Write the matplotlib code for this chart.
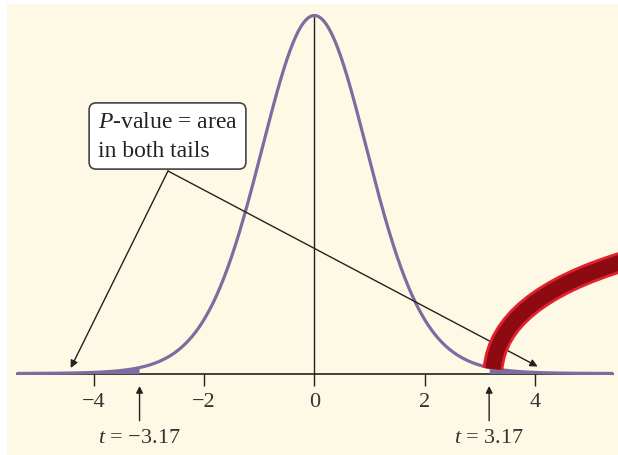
import math
import numpy as np
import matplotlib
matplotlib.use("Agg")
import matplotlib.pyplot as plt
from matplotlib.path import Path
from matplotlib.patches import PathPatch

# data
df = 15
t_stat = 3.17
x_ticks = [-4, -2, 0, 2, 4]
x_tick_labels = ["\u22124", "\u22122", "0", "2", "4"]
t_labels = ["$t$ = \u22123.17", "$t$ = 3.17"]
box_text = "$P$-value = area\nin both tails"
x_min, x_max = -5.4, 5.42

plt.rcParams["font.family"] = ["Liberation Serif", "DejaVu Serif"]
plt.rcParams["mathtext.fontset"] = "custom"
plt.rcParams["mathtext.rm"] = "Liberation Serif"
plt.rcParams["mathtext.it"] = "Liberation Serif:italic"

bg = "#fef9e4"
curve_c = "#7a6ea0"
ink = "#222222"


def t_pdf(x, k):
    c = math.gamma((k + 1) / 2) / (math.sqrt(k * math.pi) * math.gamma(k / 2))
    return c * (1 + x ** 2 / k) ** (-(k + 1) / 2)


W, H = 618, 456
fig = plt.figure(figsize=(W / 100, H / 100), dpi=100)
fig.patch.set_facecolor("white")

# pixel layout of the plotting area
px0, py_axis, unit = 314.35, 374.5, 55.14
peak_px = 16.5
f0 = t_pdf(0, df)
s = (py_axis - peak_px) / f0  # px per density unit

ax = fig.add_axes([7 / W, 0, (W - 7) / W, (H - 5) / H])
ax.set_facecolor(bg)
ax.set_xlim((7 - px0) / unit, (W - px0) / unit)
ax.set_ylim(-(H - py_axis) / s, (py_axis - 5) / s)


def px(x, y):
    return ((x - px0) / unit, (py_axis - y) / s)


xs = np.linspace(x_min, x_max, 800)
ys = t_pdf(xs, df)
ax.plot(xs, ys, color=curve_c, lw=2.3, zorder=3, solid_capstyle="butt")
ax.fill_between(xs, 0, ys, where=xs <= -t_stat, color=curve_c, lw=0, zorder=3)
ax.fill_between(xs, 0, ys, where=xs >= t_stat, color=curve_c, lw=0, zorder=3)
ax.plot([0, 0], [0, f0], color=ink, lw=1.0, zorder=2)

for sp in ["top", "left", "right"]:
    ax.spines[sp].set_visible(False)
ax.spines["bottom"].set_position(("data", 0))
ax.spines["bottom"].set_bounds(x_min, x_max)
ax.spines["bottom"].set_linewidth(1.2)
ax.spines["bottom"].set_color(ink)
ax.set_yticks([])
ax.set_xticks(x_ticks)
ax.set_xticklabels(x_tick_labels)
ax.tick_params(axis="x", direction="out", length=8.5, width=1.0, color=ink,
               pad=4.5, labelsize=16, labelcolor="#333333")

# t-statistic markers
for t, lab in zip([-t_stat, t_stat], t_labels):
    ax.annotate("", xy=(t, 0), xytext=(0, -34), textcoords="offset points",
                arrowprops=dict(arrowstyle="-|>", color=ink, lw=1.0,
                                mutation_scale=10, shrinkA=0, shrinkB=9))
    ax.annotate(lab, xy=(t, 0), xytext=(0, -46), textcoords="offset points",
                ha="center", va="center", fontsize=16, color="#333333")

# callout box
ax.text(*px(167.5, 137), box_text, ha="center", va="center",
        multialignment="left", fontsize=17, color=ink, zorder=6,
        linespacing=1.45,
        bbox=dict(boxstyle="round,pad=0.36,rounding_size=0.3", fc="white",
                  ec="#444444", lw=1.2))
start = px(168, 172)
for tip in [px(70.7, 369), px(537.7, 367.5)]:
    ax.annotate("", xy=tip, xytext=start,
                arrowprops=dict(arrowstyle="-|>", color=ink, lw=1.0,
                                mutation_scale=11, shrinkA=0, shrinkB=0),
                zorder=5)

# red swoosh arrow (decoration)
verts = [(493 / W, 1 - 370 / H), (499 / W, 1 - 300 / H), (625 / W, 1 - 262 / H)]
path = Path(verts, [Path.MOVETO, Path.CURVE3, Path.CURVE3])
fig.patches.append(PathPatch(path, transform=fig.transFigure, fill=False,
                             ec="#e3202d", lw=15, capstyle="butt", zorder=10))
fig.patches.append(PathPatch(path, transform=fig.transFigure, fill=False,
                             ec="#8e0a12", lw=11, capstyle="butt", zorder=11))

fig.savefig("out.png", dpi=100, facecolor=fig.get_facecolor())
